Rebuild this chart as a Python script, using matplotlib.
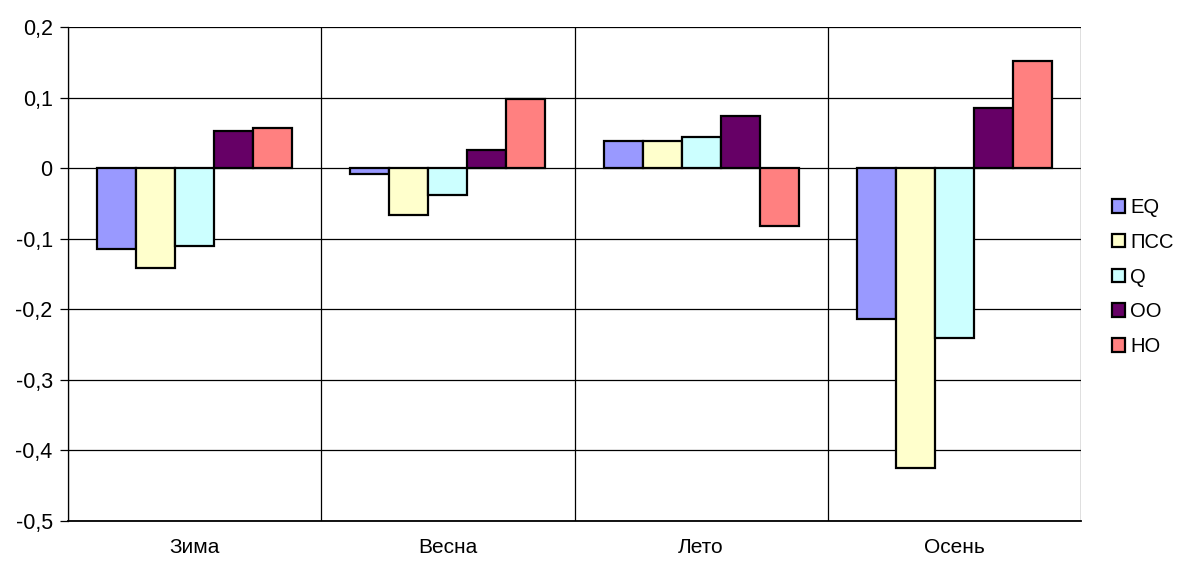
import matplotlib
matplotlib.use("Agg")
import matplotlib.pyplot as plt
import numpy as np
from matplotlib.ticker import FixedLocator, FuncFormatter

plt.rcParams['font.family'] = ['Liberation Sans', 'DejaVu Sans']

seasons = ["Зима", "Весна", "Лето", "Осень"]
series_names = ["EQ", "ПСС", "Q", "OO", "HO"]
eq = [-0.115, -0.008, 0.039, -0.214]
pss = [-0.142, -0.067, 0.038, -0.425]
q = [-0.110, -0.038, 0.044, -0.241]
oo = [0.053, 0.026, 0.074, 0.085]
ho = [0.057, 0.098, -0.082, 0.152]
series_values = [eq, pss, q, oo, ho]
colors = ["#9999FF", "#FFFFCC", "#CCFFFF", "#660066", "#FF8080"]
y_ticks = [0.2, 0.1, 0.0, -0.1, -0.2, -0.3, -0.4, -0.5]

W, H = 1179, 562
fig = plt.figure(figsize=(W / 100, H / 100), dpi=100)
ax = fig.add_axes([68 / W, (H - 521) / H, (1081 - 68) / W, (521 - 27) / H])

x = np.arange(len(seasons))
n = len(series_names)
bar_w = 1.0 / (n + 1.5)
for i, (name, vals, col) in enumerate(zip(series_names, series_values, colors)):
    offs = (i - (n - 1) / 2) * bar_w
    ax.bar(x + offs, vals, width=bar_w, color=col, edgecolor="black",
           linewidth=1.6, label=name, zorder=3)

ax.set_xlim(-0.5, len(seasons) - 0.5)
ax.set_ylim(-0.5, 0.2)

# horizontal gridlines
ax.yaxis.set_major_locator(FixedLocator(y_ticks))
ax.yaxis.set_major_formatter(FuncFormatter(lambda v, p: ("%g" % round(v, 1)).replace(".", ",")))
ax.grid(axis="y", color="black", linewidth=0.9, zorder=0)
# vertical separators between categories
for b in np.arange(-0.5, len(seasons), 1.0):
    ax.axvline(b, color="black", linewidth=0.9, zorder=1)

ax.set_xticks(x)
ax.set_xticklabels(seasons, fontsize=15)
ax.tick_params(axis="x", length=0, pad=12.5)
ax.tick_params(axis="y", direction="out", length=6, width=0.9, labelsize=15.5, pad=5)

for s in ["top", "right"]:
    ax.spines[s].set_visible(False)
ax.spines["left"].set_linewidth(0.9)
ax.spines["bottom"].set_linewidth(1.3)

leg = fig.legend(loc="center left", bbox_to_anchor=(1102 / W, 1 - 277 / H),
                 frameon=False, fontsize=14.5, handlelength=0.65, handleheight=0.65,
                 handletextpad=0.25, labelspacing=0.78, borderpad=0)

fig.savefig("out.png", dpi=100)
